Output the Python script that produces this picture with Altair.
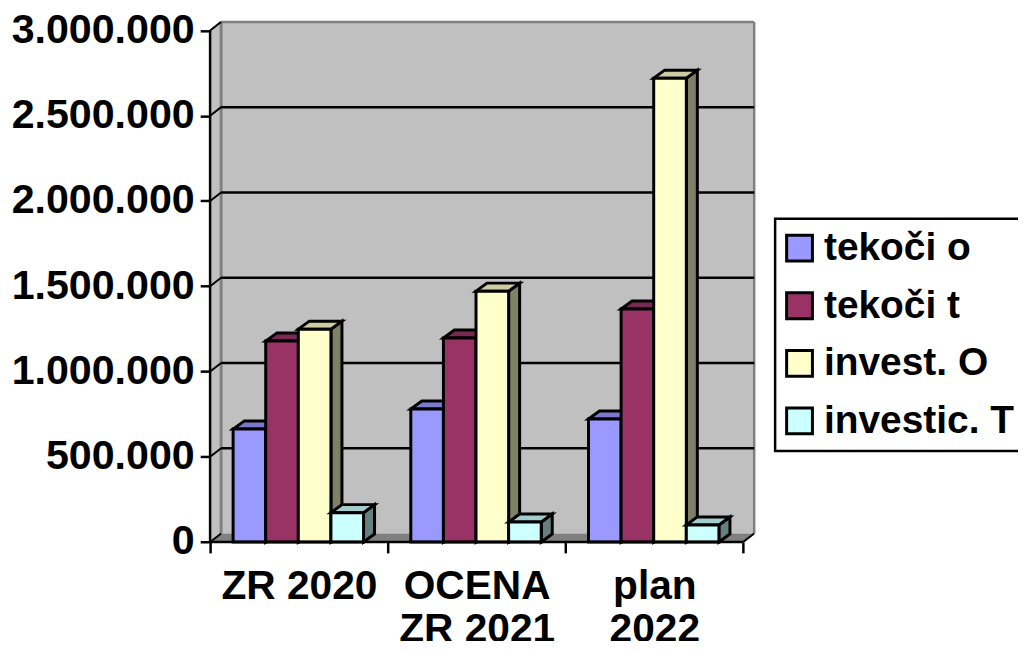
import altair as alt
import pandas as pd

categories = ["ZR 2020", "OCENA ZR 2021", "plan 2022"]
series = ["tekoči o", "tekoči t", "invest. O", "investic. T"]
tekoci_o = [662000, 780000, 721000]
tekoci_t = [1178000, 1196000, 1366000]
invest_o = [1248000, 1471000, 2720000]
investic_t = [172000, 117000, 100000]
values_by_series = [tekoci_o, tekoci_t, invest_o, investic_t]
front_colors = ["#9999FF", "#993366", "#FFFFCC", "#CCFFFF"]
top_colors = ["#7A7ACC", "#7A2952", "#CCCCA3", "#A3CCCC"]
side_colors = ["#4D4D80", "#4D1A33", "#808066", "#668080"]
y_ticks = [0, 500000, 1000000, 1500000, 2000000, 2500000, 3000000]

WALL_DX = 0.062
WALL_DY = 50000
BAR_DX = 0.062
BAR_DY = 47000
GROUP_OFFSET = 0.1295
BAR_W = 0.1835
X_MAX = 3.062
Y_MAX = 3050000
STROKE = 3

xs = alt.Scale(domain=[0, X_MAX], nice=False, zero=False)
ys = alt.Scale(domain=[0, Y_MAX], nice=False, zero=False)
BOLD = "Liberation Sans"
x_axis = alt.Axis(
    values=[0, 0.5, 1, 1.5, 2, 2.5, 3], domain=False, grid=False, title=None,
    tickSize=11, tickWidth=2.5, tickColor="black",
    tickOpacity=alt.condition("datum.value % 1 == 0", alt.value(1), alt.value(0)),
    labelFont=BOLD, labelFontWeight="bold", labelFontSize=41, labelColor="black",
    labelPadding=14, labelLineHeight=43, labelOverlap=False, labelBaseline="top",
    labelLimit=300,
    labelExpr="datum.value == 0.5 ? 'ZR 2020' : datum.value == 1.5 ? ['OCENA', 'ZR 2021'] : datum.value == 2.5 ? ['plan', '2022'] : ''",
)
y_axis = alt.Axis(
    values=y_ticks, domain=False, grid=False, title=None,
    tickSize=10, tickWidth=2.5, tickColor="black",
    labelFont=BOLD, labelFontWeight="bold", labelFontSize=41.5, labelColor="black",
    labelPadding=6, labelOverlap=False, labelLimit=300,
    labelExpr="replace(format(datum.value, ','), /,/g, '.')",
)
X = alt.X("x:Q", scale=xs, axis=x_axis)
Y = alt.Y("y:Q", scale=ys, axis=y_axis)

layers = []

# Back wall
wall = pd.DataFrame([{"x": WALL_DX, "x2": X_MAX, "y": WALL_DY, "y2": Y_MAX}])
layers.append(alt.Chart(wall).mark_rect(color="#C0C0C0").encode(x=X, x2="x2:Q", y=Y, y2="y2:Q"))

# Side wall
side_wall = pd.DataFrame([
    {"x": 0, "y": 0, "y2": 3000000},
    {"x": WALL_DX, "y": WALL_DY, "y2": Y_MAX},
])
layers.append(alt.Chart(side_wall).mark_area(color="#C0C0C0", orient="vertical").encode(
    x=X, y=Y, y2="y2:Q"))

# Floor
floor = pd.DataFrame([
    {"y": 0, "x": 0, "x2": 3},
    {"y": WALL_DY, "x": WALL_DX, "x2": X_MAX},
])
layers.append(alt.Chart(floor).mark_area(color="#808080", orient="horizontal").encode(
    x=X, x2="x2:Q", y=Y))

# Wall borders
borders = pd.DataFrame([
    {"x": WALL_DX, "x2": WALL_DX, "y": WALL_DY, "y2": Y_MAX, "w": 3},
    {"x": X_MAX, "x2": X_MAX, "y": WALL_DY, "y2": Y_MAX, "w": 2.5},
    {"x": WALL_DX, "x2": X_MAX, "y": Y_MAX, "y2": Y_MAX, "w": 2.5},
])
for _, b in borders.iterrows():
    layers.append(alt.Chart(pd.DataFrame([b.to_dict()])).mark_rule(
        color="#808080", strokeWidth=float(b["w"])).encode(x=X, x2="x2:Q", y=Y, y2="y2:Q"))

# Gridlines
grid = pd.DataFrame([{"x": WALL_DX, "x2": X_MAX, "y": v + WALL_DY} for v in y_ticks[1:-1]])
layers.append(alt.Chart(grid).mark_rule(color="black", strokeWidth=2.5).encode(x=X, x2="x2:Q", y=Y))

# Slanted connectors on the side wall and floor edge
rows = []
for v in y_ticks:
    rows.append({"k": f"v{v}", "x": 0, "y": v})
    rows.append({"k": f"v{v}", "x": WALL_DX, "y": v + WALL_DY})
rows.append({"k": "r", "x": 3, "y": 0})
rows.append({"k": "r", "x": X_MAX, "y": WALL_DY})
layers.append(alt.Chart(pd.DataFrame(rows)).mark_line(color="black", strokeWidth=2).encode(
    x=X, y=Y, detail="k:N"))

# Bars
for s, name in enumerate(series):
    fronts, sides, tops = [], [], []
    for c in range(len(categories)):
        v = values_by_series[s][c]
        x0 = c + GROUP_OFFSET + s * BAR_W
        x1 = x0 + BAR_W
        fronts.append({"x": x0, "x2": x1, "y": 0, "y2": v, "series": name})
        sides += [
            {"k": c, "x": x1, "y": v, "y2": 0},
            {"k": c, "x": x1 + BAR_DX, "y": v + BAR_DY, "y2": BAR_DY},
        ]
        tops += [
            {"k": c, "y": v, "x": x0, "x2": x1},
            {"k": c, "y": v + BAR_DY, "x": x0 + BAR_DX, "x2": x1 + BAR_DX},
        ]
    layers.append(alt.Chart(pd.DataFrame(sides)).mark_area(
        color=side_colors[s], stroke="black", strokeWidth=STROKE, orient="vertical", strokeJoin="miter"
    ).encode(x=X, y=Y, y2="y2:Q", detail="k:N"))
    layers.append(alt.Chart(pd.DataFrame(tops)).mark_area(
        color=top_colors[s], stroke="black", strokeWidth=STROKE, orient="horizontal", strokeJoin="miter"
    ).encode(x=X, x2="x2:Q", y=Y, detail="k:N"))
    layers.append(alt.Chart(pd.DataFrame(fronts)).mark_rect(
        stroke="black", strokeWidth=STROKE, strokeJoin="miter"
    ).encode(
        x=X, x2="x2:Q", y=Y, y2="y2:Q",
        fill=alt.Fill("series:N", scale=alt.Scale(domain=series, range=front_colors),
                      legend=alt.Legend(
                          orient="none", legendX=569.5, legendY=198.5, title=None,
                          symbolType="square", symbolSize=676, symbolStrokeColor="black",
                          symbolStrokeWidth=3, symbolOpacity=1, symbolOffset=-5,
                          labelFont=BOLD, labelFontWeight="bold", labelFontSize=39.2,
                          labelColor="black", labelLimit=400, labelOffset=5,
                          rowPadding=18, padding=10,
                          strokeColor="black", fillColor="white", values=series,
                      )),
    ))

# Axis lines
axis_y = pd.DataFrame([{"x": 0, "y": 0, "y2": 3000000}])
axis_x = pd.DataFrame([{"x": 0, "x2": 3, "y": 0}])
layers.append(alt.Chart(axis_y).mark_rule(color="black", strokeWidth=2.5).encode(x=X, y=Y, y2="y2:Q"))
layers.append(alt.Chart(axis_x).mark_rule(color="black", strokeWidth=2.5).encode(x=X, x2="x2:Q", y=Y))

chart = alt.layer(*layers).properties(
    width=548.4, height=524.2,
    autosize=alt.AutoSizeParams(type="none"),
    padding={"left": 203.7, "top": 11.5, "right": 265.9, "bottom": 97.3},
    background="white",
).configure_view(stroke=None).configure_legend(strokeWidth=2.5)

chart.save("out.html", embed_options={"renderer": "svg", "actions": False})
